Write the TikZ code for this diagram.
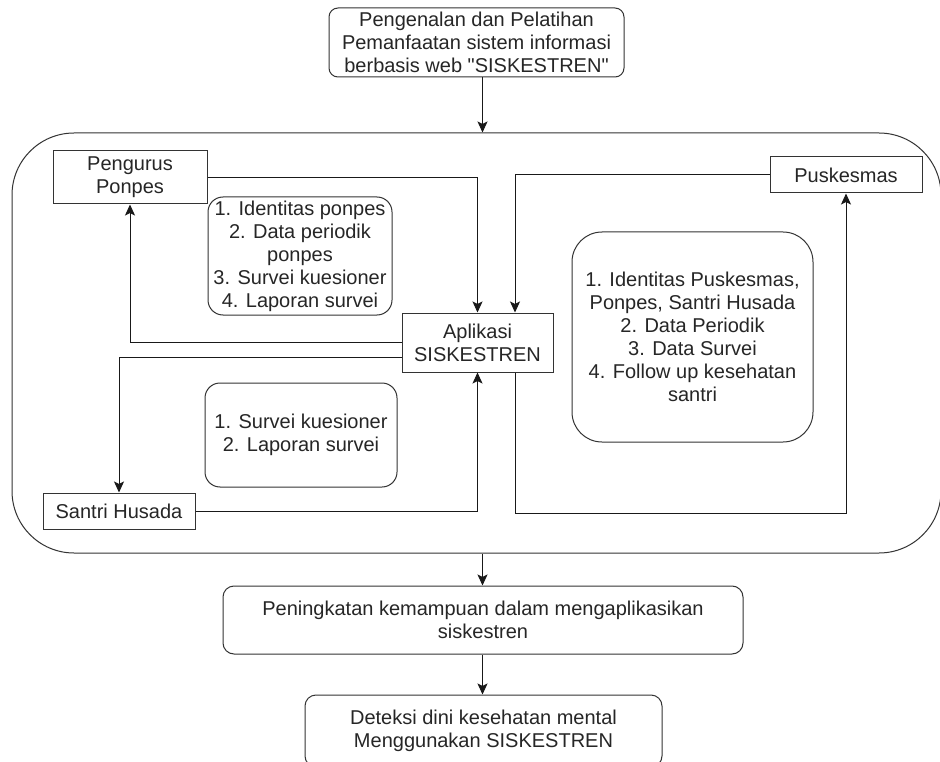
\documentclass[tikz,border=0pt]{standalone}
\usepackage{fontspec}
\setmainfont{Liberation Sans}[Ligatures=TeXOff]
\usetikzlibrary{arrows.meta}

\begin{document}
\begin{tikzpicture}[x=1pt,y=-1pt,
    every node/.style={font=\fontsize{20}{23}\selectfont, align=center, inner sep=0pt, text=black!85},
    box/.style={draw=black!80, line width=1pt, minimum width=#1},
    rbox/.style={draw=black!80, line width=1pt, rounded corners=#1},
    arr/.style={draw=black!90, line width=1pt, -{Stealth[length=11pt,width=10pt,inset=2.5pt]}},
    line/.style={draw=black!90, line width=1pt}]
    \useasboundingbox (0,0) rectangle (940,762);
    \fill[white] (0,0) rectangle (940,762);

    % outer frame
    \node[rbox=62pt, minimum width=929pt, minimum height=420pt] (frame) at (476.5,343) {};

    \node[rbox=9pt, minimum width=295pt, minimum height=69pt] (top) at (476.5,42.5)
      {Pengenalan dan Pelatihan\\Pemanfaatan sistem informasi\\berbasis web "SISKESTREN"};

    \node[box=154pt, minimum height=53pt] (pp) at (130,177.5) {Pengurus\\Ponpes};
    \node[box=152pt, minimum height=36pt] (pk) at (846,175) {Puskesmas};
    \node[box=152pt, minimum height=36pt] (sh) at (119,511) {Santri Husada};
    \node[box=151pt, minimum height=59pt] (app) at (477.5,342.5) {Aplikasi\\SISKESTREN};

    \node[rbox=15pt, minimum width=184pt, minimum height=118pt] (infopp) at (300,256)
      {1. Identitas ponpes\\2. Data periodik\\ponpes\\3. Survei kuesioner\\4. Laporan survei};
    \node[rbox=30pt, minimum width=241pt, minimum height=210pt] (infopk) at (692.5,337)
      {1. Identitas Puskesmas,\\Ponpes, Santri Husada\\2. Data Periodik\\3. Data Survei\\4. Follow up kesehatan\\santri};
    \node[rbox=15pt, minimum width=192pt, minimum height=104pt] (infosh) at (301,435)
      {1. Survei kuesioner\\2. Laporan survei};

    \node[rbox=11pt, minimum width=520pt, minimum height=68pt] (naik) at (483,620)
      {Peningkatan kemampuan dalam mengaplikasikan\\siskestren};
    \node[rbox=11pt, minimum width=357pt, minimum height=72pt] (deteksi) at (483.5,731)
      {Deteksi dini kesehatan mental\\Menggunakan SISKESTREN};

    \coordinate (mid) at (482.5,0);
    \coordinate (pkturn) at (846,513);

    \draw[arr] (top.south -| mid) -- (frame.north -| mid);
    \draw[arr] (pp.east) -| (app.north);
    \draw[arr] (pk.west) -| ([xshift=37.5pt]app.north);
    \draw[arr] (app.west) -| (pp.south);
    \draw[arr] ([yshift=-15pt]app.west) -| (sh.north);
    \draw[arr] (sh.east) -| (app.south);
    \draw[arr] ([xshift=37.5pt]app.south) |- (pkturn) -- (pk.south);
    \draw[arr] (frame.south -| mid) -- (naik.north -| mid);
    \draw[arr] (naik.south -| mid) -- (deteksi.north -| mid);
  \end{tikzpicture}
\end{document}
